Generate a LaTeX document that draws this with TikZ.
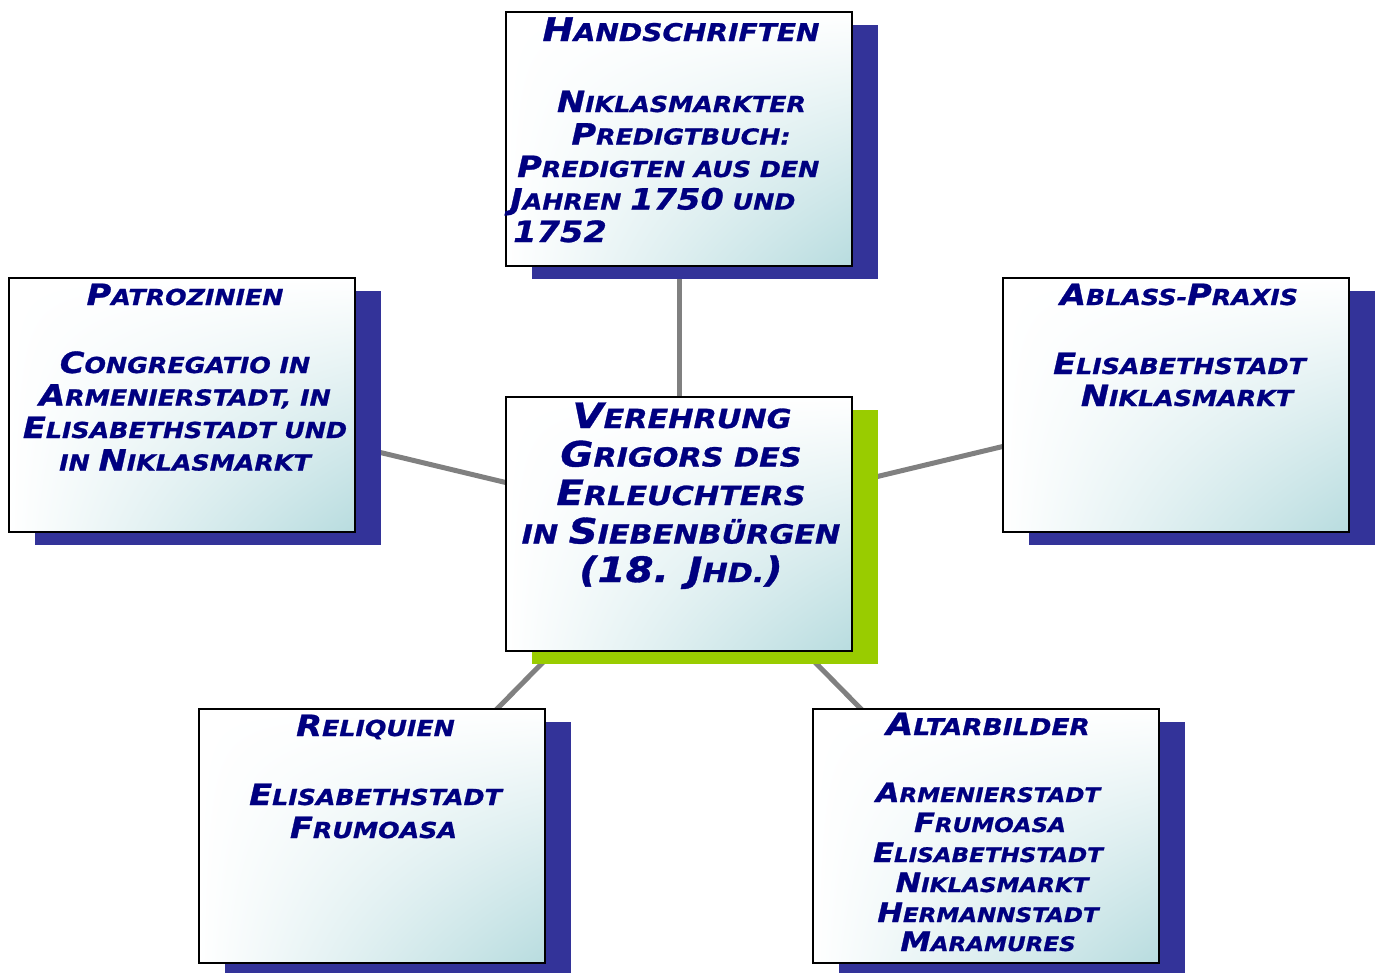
\documentclass[tikz,border=0pt]{standalone}
\usepackage{fontspec}
\usepackage{graphicx}
\usetikzlibrary{shadows,backgrounds,shadings}
\newfontfamily\df{DejaVu Sans}[FakeStretch=1.15,FakeBold=1,UprightFont=*,BoldFont=* Bold,ItalicFont=* Oblique,BoldItalicFont=* Bold Oblique]
\definecolor{navy}{HTML}{000080}
\definecolor{shblue}{HTML}{333399}
\definecolor{shgreen}{HTML}{99CC00}
\definecolor{tealc}{HTML}{B8DCDF}
\definecolor{conngray}{HTML}{808080}
\newcommand\C[1]{\scalebox{1.33}{#1}}
\tikzset{
  box/.style={draw=black, line width=2pt, shade, upper left=white, upper right=white, lower left=white, lower right=tealc,
    minimum width=346pt, minimum height=254pt, inner sep=0pt},
  blueshadow/.style={general shadow={fill=shblue, shadow xshift=26pt, shadow yshift=-13pt}},
  greenshadow/.style={general shadow={fill=shgreen, shadow xshift=26pt, shadow yshift=-13pt}},
  conn/.style={draw=conngray, line width=5pt},
  txt/.style={anchor=base, inner sep=0pt, text=navy, font=\df\bfseries\itshape\fontsize{#1}{#1}\selectfont},
  txt/.default=22,
}
\begin{document}
\begin{tikzpicture}[x=1pt,y=-1pt]
\useasboundingbox (0,0) rectangle (1381,972);
\clip (0,0) rectangle (1381,972);
% boxes
\node[box,greenshadow] (c) at (679,524) {};
\node[box,blueshadow] (h) at (679,138.5) {};
\node[box,blueshadow] (p) at (182,405) {};
\node[box,blueshadow] (a) at (1176,405) {};
\node[box,blueshadow] (r) at (372,836) {};
\node[box,blueshadow] (b) at (986,836) {};
\begin{pgfonlayer}{background}
\draw[conn] (c.center) -- (h.center);
\draw[conn] (c.center) -- (p.center);
\draw[conn] (c.center) -- (a.center);
\draw[conn] (c.center) -- (r.center);
\draw[conn] (c.center) -- (b.center);
\end{pgfonlayer}
% Handschriften
\node[txt=24.4] (h0) at (681,41) {\C{H}ANDSCHRIFTEN};
\node[txt] (h1) at (681.5,112) {\C{N}IKLASMARKTER};
\node[txt] (h2) at (681,144.5) {\C{P}REDIGTBUCH:};
\node[txt,anchor=base west] (h3) at (517,177) {\C{P}REDIGTEN AUS DEN};
\node[txt,anchor=base west] (h4) at (510,209.5) {\C{J}AHREN \C{1750} UND};
\node[txt,anchor=base west] (h5) at (513,242) {\C{1752}};
% center
\node[txt=26.3] (c1) at (682,428) {\C{V}EREHRUNG};
\node[txt=26.3] (c2) at (681,466.5) {\C{G}RIGORS DES};
\node[txt=26.3] (c3) at (681,505) {\C{E}RLEUCHTERS};
\node[txt=26.3] (c4) at (681,543.5) {IN \C{S}IEBENBÜRGEN};
\node[txt=26.3] (c5) at (681,582) {\C{(18. J}HD.\C{)}};
% Patrozinien
\node[txt] (p0) at (185,305) {\C{P}ATROZINIEN};
\node[txt] (p1) at (185,373) {\C{C}ONGREGATIO IN};
\node[txt] (p2) at (185,405.5) {\C{A}RMENIERSTADT, IN};
\node[txt] (p3) at (185,438) {\C{E}LISABETHSTADT UND};
\node[txt] (p4) at (185,470.5) {IN \C{N}IKLASMARKT};
% Ablass
\node[txt] (a0) at (1179,305) {\C{A}BLASS-\C{P}RAXIS};
\node[txt] (a1) at (1179.5,374) {\C{E}LISABETHSTADT};
\node[txt] (a2) at (1187,406) {\C{N}IKLASMARKT};
% Reliquien
\node[txt] (r0) at (375.5,736) {\C{R}ELIQUIEN};
\node[txt] (r1) at (375.5,805) {\C{E}LISABETHSTADT};
\node[txt] (r2) at (373.5,838) {\C{F}RUMOASA};
% Altarbilder
\node[txt=23] (b0) at (988,735) {\C{A}LTARBILDER};
\node[txt=20] (b1) at (988,802) {\C{A}RMENIERSTADT};
\node[txt=20] (b2) at (990,832) {\C{F}RUMOASA};
\node[txt=20] (b3) at (988,862) {\C{E}LISABETHSTADT};
\node[txt=20] (b4) at (992,892) {\C{N}IKLASMARKT};
\node[txt=20] (b5) at (988,922) {\C{H}ERMANNSTADT};
\node[txt=20] (b6) at (988,951) {\C{M}ARAMURES};
\end{tikzpicture}
\end{document}
